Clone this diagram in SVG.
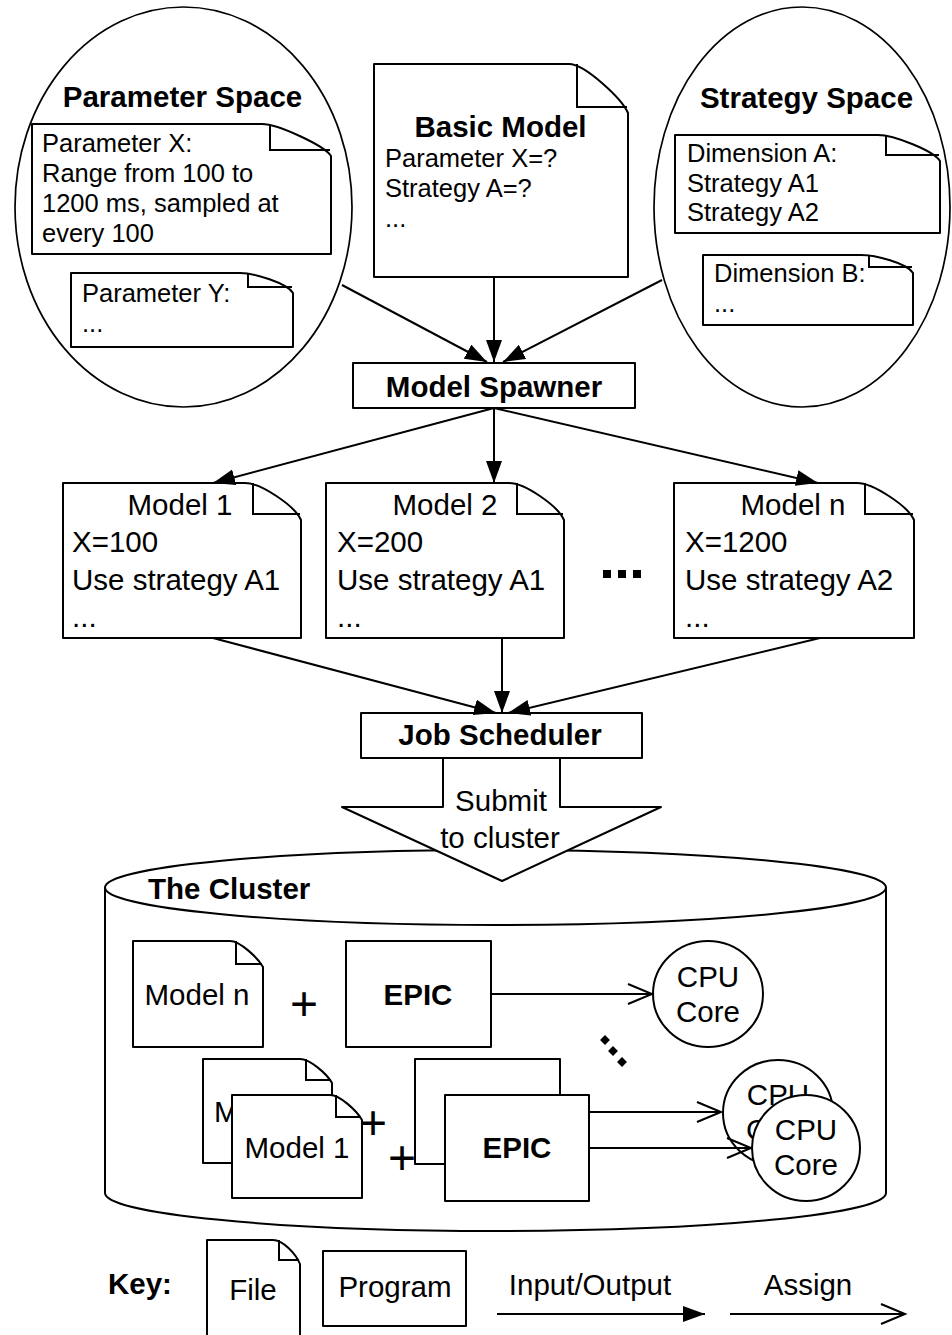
<svg xmlns="http://www.w3.org/2000/svg" width="952" height="1335" viewBox="0 0 952 1335">
<style>
  .sh{fill:#fff;stroke:#000;stroke-width:2;stroke-linejoin:round}
  .el{fill:none;stroke:#000;stroke-width:1.7}
  .ln{fill:none;stroke:#000;stroke-width:2}
  text{font-family:"Liberation Sans",Arial,Helvetica,sans-serif;fill:#000}
  .t26{font-size:25.5px}
  .t30{font-size:29.5px}
  .b30{font-size:29.5px;font-weight:bold}
  .c{text-anchor:middle}
  .plus{font-size:48px;text-anchor:middle}
</style>
<defs>
  <marker id="af" markerUnits="userSpaceOnUse" markerWidth="24" markerHeight="18" refX="22" refY="8" orient="auto">
    <path d="M0,0 L22,8 L0,16 Z" fill="#000"/>
  </marker>
  <marker id="ao" markerUnits="userSpaceOnUse" markerWidth="28" markerHeight="24" refX="25" refY="11" orient="auto">
    <path d="M1,1 L25,11 L1,21" fill="none" stroke="#000" stroke-width="2"/>
  </marker>
</defs>
<rect width="952" height="1335" fill="#fff"/>

<g id="parameter-space">
  <ellipse class="el" cx="183.5" cy="207" rx="168.5" ry="200"/>
  <text class="b30 c" x="182.5" y="107">Parameter Space</text>
</g>
<g id="param-x">
  <path class="sh" d="M32,124 H262 C278,124 325,146 331,156 V254 H32 Z"/>
  <path class="ln" d="M270,124 V150 H330"/>
  <text class="t26" x="42" y="152">Parameter X:</text>
  <text class="t26" x="42" y="182">Range from 100 to</text>
  <text class="t26" x="42" y="212">1200 ms, sampled at</text>
  <text class="t26" x="42" y="242">every 100</text>
</g>
<g id="param-y">
  <path class="sh" d="M71,273 H240 C254,273 287,283 293,293 V347 H71 Z"/>
  <path class="ln" d="M248,273 V287 H292"/>
  <text class="t26" x="82" y="302">Parameter Y:</text>
  <text class="t26" x="82" y="332">...</text>
</g>

<g id="basic-model">
  <path class="sh" d="M374,64 H569 C585,64 622,99 628,113 V277 H374 Z"/>
  <path class="ln" d="M577,64 V107 H627"/>
  <text class="b30 c" x="500.5" y="137">Basic Model</text>
  <text class="t26" x="385" y="167">Parameter X=?</text>
  <text class="t26" x="385" y="197">Strategy A=?</text>
  <text class="t26" x="385" y="227">...</text>
</g>

<g id="strategy-space">
  <ellipse class="el" cx="802" cy="207" rx="148" ry="200"/>
  <text class="b30 c" x="806.5" y="108">Strategy Space</text>
</g>
<g id="dimension-a">
  <path class="sh" d="M675,135 H878 C894,135 934,151 940,161 V233 H675 Z"/>
  <path class="ln" d="M886,135 V155 H939"/>
  <text class="t26" x="687" y="162">Dimension A:</text>
  <text class="t26" x="687" y="192">Strategy A1</text>
  <text class="t26" x="687" y="221">Strategy A2</text>
</g>
<g id="dimension-b">
  <path class="sh" d="M703,255 H861 C875,255 907,263 913,273 V325 H703 Z"/>
  <path class="ln" d="M869,255 V267 H912"/>
  <text class="t26" x="714" y="282">Dimension B:</text>
  <text class="t26" x="714" y="312">...</text>
</g>

<g id="model-spawner">
  <rect class="sh" x="353" y="363" width="282" height="45"/>
  <text class="b30 c" x="494" y="397">Model Spawner</text>
</g>

<g id="model-1">
  <path class="sh" d="M63,483 H245 C261,483 295,506 301,520 V638 H63 Z"/>
  <path class="ln" d="M253,483 V514 H300"/>
  <text class="t30 c" x="180" y="515">Model 1</text>
  <text class="t30" x="72" y="552">X=100</text>
  <text class="t30" x="72" y="590">Use strategy A1</text>
  <text class="t30" x="72" y="627">...</text>
</g>
<g id="model-2">
  <path class="sh" d="M326,483 H509 C525,483 558,506 564,520 V638 H326 Z"/>
  <path class="ln" d="M517,483 V514 H563"/>
  <text class="t30 c" x="445" y="515">Model 2</text>
  <text class="t30" x="337" y="552">X=200</text>
  <text class="t30" x="337" y="590">Use strategy A1</text>
  <text class="t30" x="337" y="627">...</text>
</g>
<g id="models-ellipsis">
  <rect x="603" y="570" width="8" height="8" fill="#000"/>
  <rect x="618" y="570" width="8" height="8" fill="#000"/>
  <rect x="633" y="570" width="8" height="8" fill="#000"/>
</g>
<g id="model-n">
  <path class="sh" d="M674,483 H857 C873,483 908,506 914,520 V638 H674 Z"/>
  <path class="ln" d="M865,483 V514 H913"/>
  <text class="t30 c" x="793" y="515">Model n</text>
  <text class="t30" x="685" y="552">X=1200</text>
  <text class="t30" x="685" y="590">Use strategy A2</text>
  <text class="t30" x="685" y="627">...</text>
</g>

<g id="cluster">
  <path class="sh" d="M105,887.5 V1193 A390.5,38 0 0 0 886,1193 V887.5"/>
  <ellipse class="sh" cx="495.5" cy="887.5" rx="390.5" ry="37.5"/>
  <text class="b30" x="148" y="899">The Cluster</text>
</g>

<g id="job-scheduler">
  <polygon class="sh" points="443,758 443,807 342,807 502,881 661,807 560,807 560,758"/>
  <text class="t30 c" x="501" y="811">Submit</text>
  <text class="t30 c" x="500" y="848">to cluster</text>
  <rect class="sh" x="361" y="713" width="281" height="45"/>
  <text class="b30 c" x="500" y="745">Job Scheduler</text>
</g>

<g id="cluster-model-n">
  <path class="sh" d="M133,941 H230 C240,941 258,958 263,967 V1047 H133 Z"/>
  <path class="ln" d="M236,941 V964 H262"/>
  <text class="t30 c" x="197" y="1005">Model n</text>
</g>
<g id="plus-1"><text class="plus" x="304" y="1020">+</text></g>
<g id="epic-1">
  <rect class="sh" x="346" y="941" width="145" height="106"/>
  <text class="b30 c" x="418" y="1005">EPIC</text>
</g>
<g id="cpu-1">
  <ellipse class="sh" cx="708" cy="994" rx="55" ry="53"/>
  <text class="t30 c" x="708" y="987">CPU</text>
  <text class="t30 c" x="708" y="1022">Core</text>
</g>
<g id="cluster-ellipsis">
  <rect x="601.5" y="1036.5" width="7" height="7" fill="#000" transform="rotate(45 605 1040)"/>
  <rect x="609.5" y="1047.5" width="7" height="7" fill="#000" transform="rotate(45 613 1051)"/>
  <rect x="618.5" y="1058.5" width="7" height="7" fill="#000" transform="rotate(45 622 1062)"/>
</g>
<g id="file-back">
  <path class="sh" d="M203,1059 H300 C310,1059 327,1074 332,1083 V1163 H203 Z"/>
  <path class="ln" d="M306,1059 V1080 H331"/>
  <text class="t30" x="214" y="1122">M</text>
</g>
<g id="file-model-1">
  <path class="sh" d="M232,1095 H330 C340,1095 357,1111 362,1120 V1198 H232 Z"/>
  <path class="ln" d="M336,1095 V1117 H361"/>
  <text class="t30 c" x="297" y="1158">Model 1</text>
</g>
<g id="plus-2"><text class="plus" x="373" y="1139">+</text></g>
<g id="plus-3"><text class="plus" x="402" y="1174">+</text></g>
<g id="epic-back">
  <rect class="sh" x="415" y="1059" width="145" height="105"/>
</g>
<g id="epic-2">
  <rect class="sh" x="445" y="1095" width="144" height="106"/>
  <text class="b30 c" x="517" y="1158">EPIC</text>
</g>
<g id="cpu-back">
  <ellipse class="sh" cx="778" cy="1113" rx="55" ry="53"/>
  <text class="t30 c" x="778" y="1105">CPU</text>
  <text class="t30" x="746" y="1140">C</text>
</g>
<g id="cpu-2">
  <ellipse class="sh" cx="806" cy="1148" rx="54" ry="53"/>
  <text class="t30 c" x="806" y="1140">CPU</text>
  <text class="t30 c" x="806" y="1175">Core</text>
</g>

<g id="key">
  <text class="b30" x="108" y="1294">Key:</text>
  <path class="sh" d="M207,1240 H273 C283,1240 296,1254 300,1264 V1345 H207 Z"/>
  <path class="ln" d="M279,1240 V1260 H299"/>
  <text class="t30 c" x="253" y="1300">File</text>
  <rect class="sh" x="323" y="1251" width="143" height="75"/>
  <text class="t30 c" x="395" y="1297">Program</text>
  <text class="t30 c" x="590" y="1295">Input/Output</text>
  <text class="t30 c" x="808" y="1295">Assign</text>
</g>

<g id="connectors">
  <line class="ln" x1="342" y1="285" x2="487" y2="362" marker-end="url(#af)"/>
  <line class="ln" x1="494" y1="277" x2="494" y2="362" marker-end="url(#af)"/>
  <line class="ln" x1="662" y1="280" x2="503" y2="362" marker-end="url(#af)"/>
  <line class="ln" x1="494" y1="408" x2="213" y2="483" marker-end="url(#af)"/>
  <line class="ln" x1="494" y1="408" x2="494" y2="483" marker-end="url(#af)"/>
  <line class="ln" x1="494" y1="408" x2="818" y2="483" marker-end="url(#af)"/>
  <line class="ln" x1="213" y1="638" x2="496" y2="713" marker-end="url(#af)"/>
  <line class="ln" x1="502" y1="638" x2="502" y2="713" marker-end="url(#af)"/>
  <line class="ln" x1="820" y1="638" x2="508" y2="713" marker-end="url(#af)"/>
  <line class="ln" x1="491" y1="994" x2="652" y2="994" marker-end="url(#ao)"/>
  <line class="ln" x1="589" y1="1112" x2="721" y2="1112" marker-end="url(#ao)"/>
  <line class="ln" x1="589" y1="1148" x2="751" y2="1148" marker-end="url(#ao)"/>
  <line class="ln" x1="497" y1="1314" x2="705" y2="1314" marker-end="url(#af)"/>
  <line class="ln" x1="730" y1="1314" x2="905" y2="1314" marker-end="url(#ao)"/>
</g>
</svg>
